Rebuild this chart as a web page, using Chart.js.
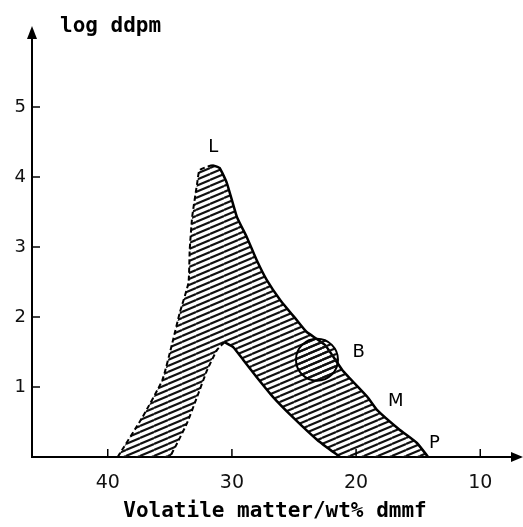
<!DOCTYPE html>
<html>
<head>
<meta charset="utf-8">
<script src="https://cdn.jsdelivr.net/npm/chart.js@4"></script>
<style>
  html, body { margin: 0; padding: 0; background: #fff; overflow: hidden; }
  #wrap { width: 523px; height: 527px; position: relative; }
  canvas { display: block; }
</style>
</head>
<body>
<div id="wrap"><canvas id="chart"></canvas></div>
<script>
// ---- data ----
const xTicks = [40, 30, 20, 10];
const yTicks = [1, 2, 3, 4, 5];
const xTitle = 'Volatile matter/wt% dmmf';
const yTitle = 'log ddpm';

// outer edge of the hatched band, left flank (bottom -> peak)
const outerLeftX = [39.2, 37.2, 35.6, 34.8, 34.2, 33.5, 33.4, 33.2, 32.8, 32.6, 31.6];
const outerLeftY = [0, 0.57, 1.1, 1.63, 2.06, 2.49, 2.96, 3.43, 3.91, 4.1, 4.17];
// outer edge, right flank (peak -> P)
const outerRightX = [31.0, 30.4, 29.6, 28.8, 28.0, 27.2, 26.1, 24.8, 24.0, 22.5, 21.1, 19.1, 18.3, 16.5, 15.1, 14.2];
const outerRightY = [4.13, 3.91, 3.43, 3.14, 2.81, 2.53, 2.24, 1.96, 1.79, 1.6, 1.24, 0.86, 0.67, 0.39, 0.2, 0];
// inner edge (the empty notch), right flank bottom -> top
const innerRightX = [21.3, 23.1, 25.1, 26.7, 28.0, 29.1, 29.9, 30.6];
const innerRightY = [0, 0.24, 0.57, 0.86, 1.14, 1.39, 1.57, 1.64];
// inner edge, left flank top -> bottom
const innerLeftX = [31.2, 32.0, 32.8, 33.6, 34.4, 35.0];
const innerLeftY = [1.53, 1.24, 0.86, 0.49, 0.2, 0];

// circle B
const circleX = [23.15];
const circleY = [1.39];

// point labels
const labelText = ['L', 'B', 'M', 'P'];
const labelX = [31.5, 19.8, 16.8, 13.7];
const labelY = [4.43, 1.5, 0.8, 0.2];

// ---- build the polygon ----
const toPts = (xs, ys) => xs.map((x, i) => ({ x, y: ys[i] }));
const outerLeft = toPts(outerLeftX, outerLeftY);
const outerRight = toPts(outerRightX, outerRightY);
const innerRight = toPts(innerRightX, innerRightY);
const innerLeft = toPts(innerLeftX, innerLeftY);
const polygon = [...outerLeft, ...outerRight, ...innerRight, ...innerLeft, outerLeft[0]];
const peak = outerLeft[outerLeft.length - 1];
const notchTop = innerRight[innerRight.length - 1];

function hatchPattern() {
  const c = document.createElement('canvas');
  c.width = 14; c.height = 6;
  const g = c.getContext('2d');
  g.strokeStyle = '#111';
  g.lineWidth = 2.1;
  for (const dy of [-6, 0, 6]) {
    g.beginPath();
    g.moveTo(0, 6 + dy);
    g.lineTo(14, dy);
    g.stroke();
  }
  return g.createPattern(c, 'repeat');
}
const hatch = hatchPattern();

const edge = (data, dashed, width) => ({
  data,
  showLine: true,
  fill: false,
  borderColor: '#000',
  borderWidth: width,
  borderDash: dashed ? [5, 3] : [],
  pointRadius: 0,
  tension: 0.15,
});

// ---- decorations: arrows, inside tick marks, texts ----
const decor = {
  id: 'decor',
  afterDraw(chart) {
    const { ctx, chartArea: a, scales: { x, y } } = chart;
    ctx.save();
    ctx.fillStyle = '#000';
    ctx.strokeStyle = '#000';
    // arrows
    ctx.beginPath();
    ctx.moveTo(a.left, a.top - 4);
    ctx.lineTo(a.left - 5, a.top + 9);
    ctx.lineTo(a.left + 5, a.top + 9);
    ctx.closePath();
    ctx.fill();
    ctx.beginPath();
    ctx.moveTo(a.right + 3, a.bottom);
    ctx.lineTo(a.right - 9, a.bottom - 5);
    ctx.lineTo(a.right - 9, a.bottom + 5);
    ctx.closePath();
    ctx.fill();
    // tick marks pointing into the plot
    ctx.lineWidth = 1.5;
    xTicks.forEach(v => {
      const px = x.getPixelForValue(v);
      ctx.beginPath(); ctx.moveTo(px, a.bottom); ctx.lineTo(px, a.bottom - 8); ctx.stroke();
    });
    yTicks.forEach(v => {
      const py = y.getPixelForValue(v);
      ctx.beginPath(); ctx.moveTo(a.left, py); ctx.lineTo(a.left + 8, py); ctx.stroke();
    });
    // axis titles
    ctx.font = 'bold 21px "DejaVu Sans Mono"';
    ctx.textAlign = 'left';
    ctx.textBaseline = 'alphabetic';
    ctx.fillText(yTitle, 60, 32);
    ctx.textAlign = 'center';
    ctx.textBaseline = 'middle';
    ctx.fillText(xTitle, 275, 512);
    // point labels
    ctx.font = '18px "DejaVu Sans"';
    labelText.forEach((t, i) => {
      ctx.fillText(t, x.getPixelForValue(labelX[i]), y.getPixelForValue(labelY[i]));
    });
    ctx.restore();
  }
};

new Chart(document.getElementById('chart'), {
  type: 'scatter',
  data: {
    datasets: [
      {
        data: toPts(circleX, circleY),
        pointRadius: 21,
        pointBorderWidth: 2,
        pointBorderColor: '#000',
        pointBackgroundColor: hatch,
      },
      edge(outerLeft, true, 2),
      edge([peak, ...outerRight], false, 2.5),
      edge(innerRight, false, 2.5),
      edge([notchTop, ...innerLeft], true, 2),
      {
        data: polygon,
        showLine: true,
        fill: 'shape',
        backgroundColor: hatch,
        borderWidth: 0,
        borderColor: 'rgba(0,0,0,0)',
        pointRadius: 0,
        tension: 0.15,
      },
    ]
  },
  options: {
    responsive: true,
    maintainAspectRatio: false,
    animation: false,
    events: [],
    layout: { autoPadding: false, padding: { top: 30, right: 3, left: 0, bottom: 0 } },
    plugins: { legend: { display: false }, tooltip: { enabled: false } },
    scales: {
      x: {
        type: 'linear',
        reverse: true,
        min: 6.8,
        max: 46.1,
        afterBuildTicks: s => { s.ticks = xTicks.map(v => ({ value: v })); },
        afterFit: s => { s.height = 70; s.paddingLeft = 0; s.paddingRight = 0; },
        grid: { display: false, drawTicks: false },
        border: { color: '#000', width: 2 },
        ticks: { color: '#111', padding: 15, font: { family: 'DejaVu Sans', size: 19 } },
      },
      y: {
        type: 'linear',
        min: 0,
        max: 6.1,
        afterBuildTicks: s => { s.ticks = yTicks.map(v => ({ value: v })); },
        afterFit: s => { s.width = 32; s.paddingTop = 0; s.paddingBottom = 0; },
        grid: { display: false, drawTicks: false },
        border: { color: '#000', width: 2 },
        ticks: { color: '#111', padding: 6, font: { family: 'DejaVu Sans', size: 18 } },
      },
    },
  },
  plugins: [decor],
});
</script>
</body>
</html>
